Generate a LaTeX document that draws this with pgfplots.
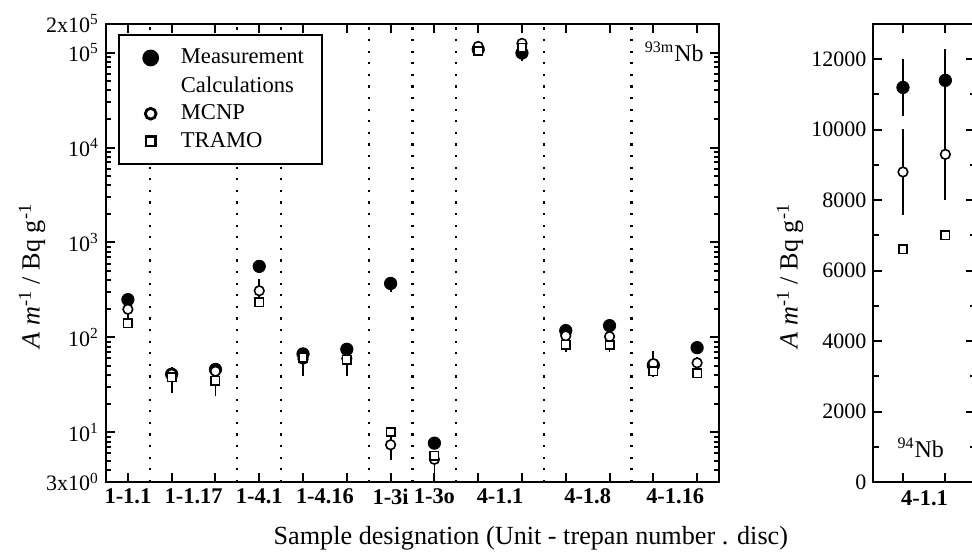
\documentclass[border=0pt]{standalone}
\usepackage{pgfplots}
\pgfplotsset{compat=1.18}
\usepackage{fontspec}
\setmainfont{Liberation Serif}
\newcommand{\ylab}{\textit{A m}\textsuperscript{-1} / Bq g\textsuperscript{-1}}
\begin{document}
\begin{tikzpicture}
\pgfplotsset{
  base/.style={
    scale only axis, anchor=south west, height=229pt,
    axis line style={line width=1pt},
    tick style={line width=1pt, black},
    major tick length=4.5pt, minor tick length=2.6pt,
    tick label style={font=\fontsize{11}{13}\selectfont},
    label style={font=\fontsize{13.1}{15}\selectfont},
    scaled ticks=false,
  },
  errs/.style={error bars/y dir=both, error bars/y explicit, error bars/error mark=none,
    error bars/error bar style={line width=0.9pt, black, solid}},
  meas/.style={only marks, mark=*, mark size=3.1pt, mark options={draw=black, fill=black}, errs},
  mcnp/.style={only marks, mark=*, mark size=2.4pt, mark options={draw=black, fill=white, line width=0.8pt}, errs},
  tramo/.style={only marks, mark=square*, mark size=2.1pt, mark options={draw=black, fill=white, line width=0.8pt}, errs},
}
% ---------------- left panel (93mNb, log) ----------------
\begin{axis}[base, at={(53pt,35pt)}, width=306.5pt,
  xmin=-0.5, xmax=13.5, ymode=log, ymin=3, ymax=2e5,
  xtick={0,...,13}, xticklabels={},
  ytick={3,10,100,1000,10000,100000,200000},
  yticklabels={3x10\textsuperscript{0},10\textsuperscript{1},10\textsuperscript{2},10\textsuperscript{3},10\textsuperscript{4},10\textsuperscript{5},2x10\textsuperscript{5}},
  minor ytick={4,5,6,7,8,9,20,30,40,50,60,70,80,90,200,300,400,500,600,700,800,900,2000,3000,4000,5000,6000,7000,8000,9000,20000,30000,40000,50000,60000,70000,80000,90000},
  ylabel={\ylab},
  ylabel style={at={(axis description cs:-0.1207,0.4498)}, anchor=center},
  xlabel={Sample designation (Unit - trepan number . disc)},
  xlabel style={at={(axis description cs:0.693,-0.122)}, anchor=center},
  legend cell align=left,
  legend style={at={(axis description cs:0.0196,0.978)}, anchor=north west,
    draw=black, line width=1pt, fill=white,
    font=\fontsize{11.3}{13.5}\selectfont,
    inner xsep=7.3pt, inner ysep=5pt, row sep=0.8pt},
  legend image code/.code={\path (0.3cm-6.3pt,0cm) (0.3cm+12.5pt,0cm);
    \draw[mark repeat=2,mark phase=2,#1] plot coordinates {(0cm,0cm) (0.3cm,0cm) (0.6cm,0cm)};},
  legend image post style={line width=1.2pt, /tikz/every mark/.append style={line width=1.4pt, scale=1.12}},
]
\pgfplotsinvokeforeach{0.5,2.5,3.5,5.5,6.5,7.5,9.5,11.5}{
  \addplot[forget plot, black, line width=1.1pt, dash pattern=on 1.1pt off 4.7pt] coordinates {(#1,3) (#1,2e5)};
}
\addplot[meas] coordinates {
 (0,250) +- (0,0)
 (1,41) +- (0,8)
 (2,46) +- (0,0)
 (3,560) +- (0,0)
 (4,67) +- (0,0)
 (5,75) +- (0,0)
 (6,370) += (0,50) -= (0,70)
 (7,7.7) +- (0,0)
 (8,108000) +- (0,0)
 (9,99000) +- (0,17000)
 (10,118) +- (0,0)
 (11,133) +- (0,0)
 (12,51) +- (0,0)
 (13,78) +- (0,0)
};
\addlegendentry{Measurement}
\addlegendimage{empty legend}
\addlegendentry{Calculations}
\addplot[mcnp] coordinates {
 (0,198) += (0,30) -= (0,40)
 (1,41) += (0,8) -= (0,15)
 (2,44) += (0,4) -= (0,20)
 (3,310) += (0,100) -= (0,80)
 (4,59) += (0,8) -= (0,20)
 (5,60) += (0,8) -= (0,21)
 (6,7.4) += (0,1.5) -= (0,2.3)
 (7,5.2) += (0,1) -= (0,1.6)
 (8,116000) +- (0,8000)
 (9,125000) +- (0,8000)
 (10,104) += (0,10) -= (0,33)
 (11,102) += (0,10) -= (0,31)
 (12,53) += (0,19) -= (0,15)
 (13,54) += (0,8) -= (0,17)
};
\addlegendentry{MCNP}
\addplot[tramo] coordinates {
 (0,141) +- (0,0)
 (1,38) +- (0,0)
 (2,35) +- (0,0)
 (3,234) +- (0,0)
 (4,61) +- (0,0)
 (5,58) +- (0,0)
 (6,10.1) +- (0,0)
 (7,5.7) +- (0,0)
 (8,104000) +- (0,0)
 (9,113000) +- (0,0)
 (10,84) +- (0,0)
 (11,83) +- (0,0)
 (12,44) +- (0,0)
 (13,42) +- (0,0)
};
\addlegendentry{TRAMO}
\node[anchor=base east, inner sep=0pt, font=\fontsize{12}{14}\selectfont] at (axis description cs:0.9755,0.918) {\textsuperscript{93m}Nb};
\end{axis}
% category labels for left panel
\begin{axis}[scale only axis, anchor=south west, at={(53pt,35pt)}, width=306.5pt, height=229pt,
  xmin=-0.5, xmax=13.5, ymin=0, ymax=1,
  axis y line=none, axis x line*=bottom, x axis line style={draw=none},
  major tick length=0pt,
  xtick={0,1.5,3,4.5,6,7,8.5,10.5,12.5},
  xticklabels={1-1.1,1-1.17,1-4.1,1-4.16,1-3i,1-3o,4-1.1,4-1.8,4-1.16},
  xticklabel style={font=\fontsize{11.2}{13}\selectfont\bfseries}]
\end{axis}
% ---------------- right panel (94Nb, linear) ----------------
\begin{axis}[base, at={(436.65pt,35pt)}, width=50.85pt,
  xmin=-0.7, xmax=1.7, ymin=0, ymax=13000,
  xtick={0,1}, xticklabels={},
  ytick={0,2000,4000,6000,8000,10000,12000},
  yticklabels={0,2000,4000,6000,8000,10000,12000},
  minor ytick={1000,3000,5000,7000,9000,11000},
  ylabel={\ylab},
  ylabel style={at={(axis description cs:-0.819,0.4498)}, anchor=center},
  xlabel={4-1.1},
  xlabel style={font=\fontsize{11.2}{13}\selectfont\bfseries, at={(axis description cs:0.503,-0.0349)}, anchor=center},
]
\addplot[meas] coordinates {(0,11200) +- (0,820) (1,11400) +- (0,880)};
\addplot[mcnp] coordinates {(0,8800) +- (0,1230) (1,9300) +- (0,1300)};
\addplot[tramo] coordinates {(0,6600) +- (0,0) (1,7000) +- (0,0)};
\node[anchor=base east, inner sep=0pt, font=\fontsize{12}{14}\selectfont] at (axis description cs:0.698,0.054) {\textsuperscript{94}Nb};
\end{axis}
\pgfresetboundingbox
\useasboundingbox (0,0) rectangle (486pt,276pt);
\end{tikzpicture}
\end{document}
